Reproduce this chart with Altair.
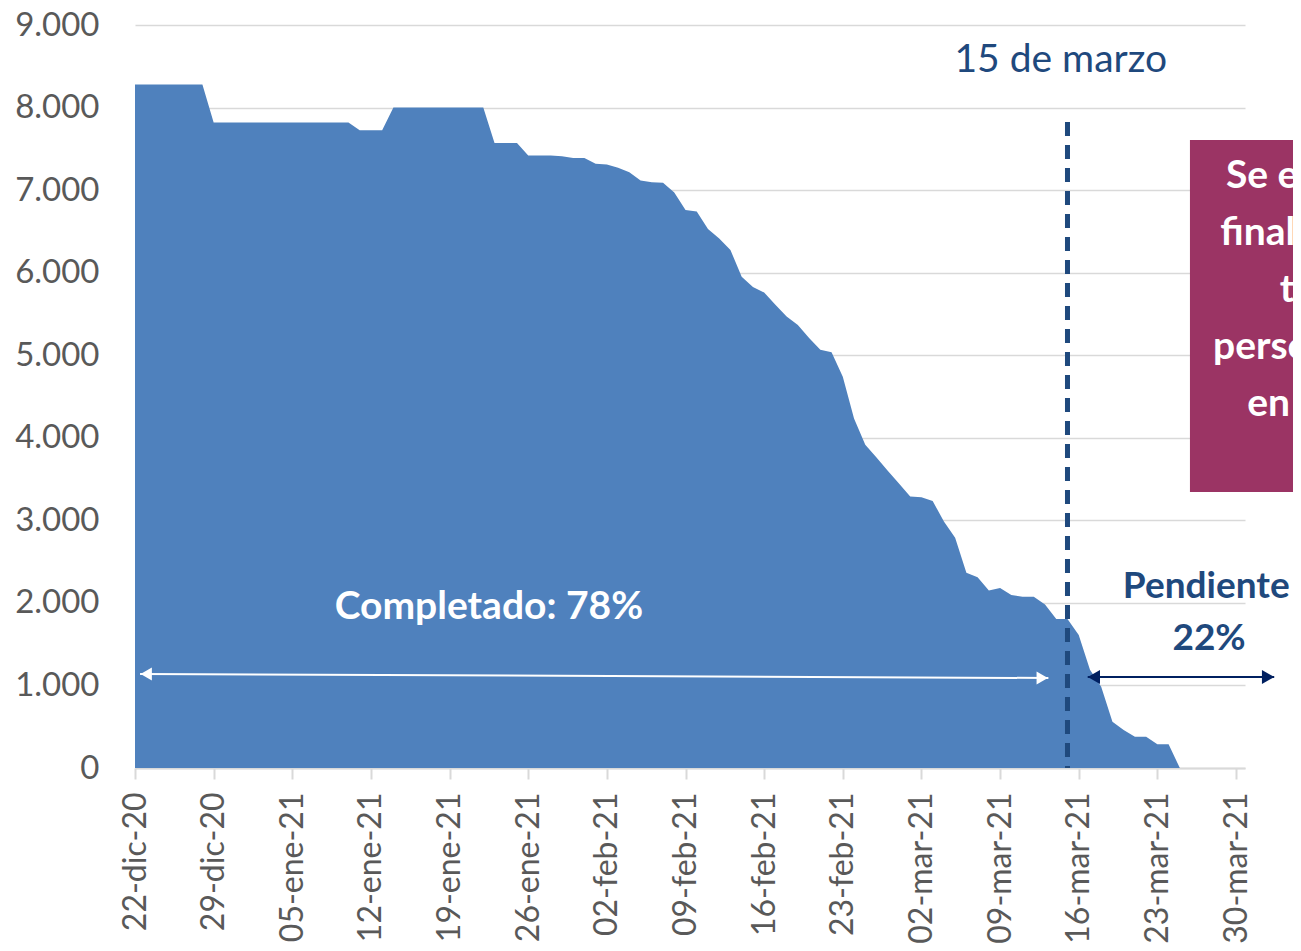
import altair as alt
import pandas as pd

# ---------------- data ----------------
# remaining persons, one value per day starting 22-dic-2020 (day 0)
values = [
    8280, 8280, 8280, 8280, 8280, 8280, 8280,                 # 22-28 dic
    7820, 7820, 7820, 7820, 7820, 7820, 7820, 7820, 7820, 7820, 7820, 7820, 7820,  # 29 dic - 10 ene
    7725, 7725, 7725,                                           # 11-13 ene
    8000, 8000, 8000, 8000, 8000, 8000, 8000, 8000, 8000,       # 14-22 ene
    7570, 7570, 7570,                                           # 23-25 ene
    7420, 7420, 7420, 7410, 7390, 7390, 7320, 7310, 7270, 7215,
    7115, 7095, 7090, 6970, 6760, 6740, 6530, 6415, 6275, 5950,
    5825, 5760, 5610, 5470, 5365, 5210, 5065, 5035, 4740, 4235,
    3915, 3760, 3600, 3445, 3290, 3280, 3235, 2985, 2790, 2365,
    2310, 2150, 2180, 2095, 2075, 2075, 1980, 1805, 1805, 1610,
    1190, 985, 560, 460, 380, 380, 287, 287, 0,
]
days = list(range(len(values)))

tick_days = [0, 7, 14, 21, 28, 35, 42, 49, 56, 63, 70, 77, 84, 91, 98]
tick_labels = ["22-dic-20", "29-dic-20", "05-ene-21", "12-ene-21", "19-ene-21",
               "26-ene-21", "02-feb-21", "09-feb-21", "16-feb-21", "23-feb-21",
               "02-mar-21", "09-mar-21", "16-mar-21", "23-mar-21", "30-mar-21"]
y_ticks = [0, 1000, 2000, 3000, 4000, 5000, 6000, 7000, 8000, 9000]

# annotations (day index / value units)
marker_day = [83.0]           # 15 de marzo
marker_top = [7826]
marker_label = ["15 de marzo"]
marker_label_pos = [(82.4, 8435)]

done_label = ["Completado: 78%"]
done_label_pos = [(31.5, 1801)]
done_arrow = [(0.45, 1139, 81.3, 1090)]

pend_labels = ["Pendiente", "22%"]
pend_label_pos = [(95.35, 2056), (95.6, 1429)]
pend_arrow = [(84.8, 1102, 101.4, 1102)]

box_extent = [(93.9, 120.0, 7608, 3343)]
box_lines = ["Se e", "final", "t", "perso", "en"]
box_line_pos = [(97.1, 7026), (96.6, 6335), (101.9, 5645), (95.95, 4955), (99.0, 4264)]

# ---------------- styling ----------------
FONT = "Lato"
AREA = "#4F81BD"
NAVY = "#1F497D"
DARK = "#002060"
GRID = "#D9D9D9"
LABEL = "#595959"
BOX = "#9B3464"

XDOM = [0, 98.8]
YDOM = [0, 9000]
xs = alt.Scale(domain=XDOM, nice=False, zero=False)
ys = alt.Scale(domain=YDOM, nice=False)

df = pd.DataFrame({"day": days, "value": values})

label_expr = "[" + ",".join(f"'{t}'" for t in tick_labels) + "][round(datum.value/7)]"

area = alt.Chart(df).mark_area(color=AREA, interpolate="linear").encode(
    x=alt.X("day:Q", scale=xs, title=None,
            axis=alt.Axis(values=tick_days, labelExpr=label_expr, grid=False,
                          domainColor=GRID, domainWidth=2, tickColor=GRID,
                          tickWidth=2, tickSize=11, labelAngle=270,
                          labelPadding=13, labelFontSize=32, labelFont=FONT,
                          labelColor=LABEL, labelOverlap=False)),
    y=alt.Y("value:Q", scale=ys, title=None,
            axis=alt.Axis(values=y_ticks,
                          labelExpr="replace(format(datum.value, ','), ',', '.')",
                          grid=True, gridColor=GRID, gridWidth=1.5, domain=False,
                          ticks=False, labelPadding=36, labelFontSize=33,
                          labelFont=FONT, labelColor=LABEL)),
)


def X(f):
    return alt.X(f, scale=xs, title=None)


def Y(f):
    return alt.Y(f, scale=ys, title=None)


# dashed 15-mar marker
mk = pd.DataFrame({"x": marker_day, "y": marker_top, "y0": [0]})
marker = alt.Chart(mk).mark_rule(color=NAVY, strokeWidth=5, strokeDash=[14, 9]).encode(
    x=X("x:Q"), y=Y("y:Q"), y2="y0:Q")

mkl = pd.DataFrame({"x": [p[0] for p in marker_label_pos], "y": [p[1] for p in marker_label_pos],
                    "t": marker_label})
marker_text = alt.Chart(mkl).mark_text(font=FONT, fontSize=39, color=NAVY,
                                       align="center", baseline="alphabetic").encode(
    x=X("x:Q"), y=Y("y:Q"), text="t:N")

# completed label + white double arrow
dl = pd.DataFrame({"x": [p[0] for p in done_label_pos], "y": [p[1] for p in done_label_pos],
                   "t": done_label})
done_text = alt.Chart(dl).mark_text(font=FONT, fontSize=39, fontWeight="bold", color="white",
                                    align="center", baseline="alphabetic").encode(
    x=X("x:Q"), y=Y("y:Q"), text="t:N")


def double_arrow(spec, color, size):
    x1, y1, x2, y2 = spec
    line = pd.DataFrame({"x": [x1], "y": [y1], "x2": [x2], "y2": [y2]})
    rule = alt.Chart(line).mark_rule(color=color, strokeWidth=2).encode(
        x=X("x:Q"), y=Y("y:Q"), x2="x2:Q", y2="y2:Q")
    off = 0.55
    heads = pd.DataFrame({"x": [x1 + off, x2 - off], "y": [y1, y2],
                          "s": ["triangle-left", "triangle-right"]})
    pts = alt.Chart(heads).mark_point(filled=True, opacity=1, color=color, size=size).encode(
        x=X("x:Q"), y=Y("y:Q"),
        shape=alt.Shape("s:N", scale=None, legend=None))
    return rule + pts


done_arrow_layer = double_arrow(done_arrow[0], "white", 170)
pend_arrow_layer = double_arrow(pend_arrow[0], DARK, 200)

pl = pd.DataFrame({"x": [p[0] for p in pend_label_pos], "y": [p[1] for p in pend_label_pos],
                   "t": pend_labels, "fs": [37, 37]})
pend_text = alt.Chart(pl).mark_text(font=FONT, fontWeight="bold", color=NAVY,
                                    align="center", baseline="alphabetic").encode(
    x=X("x:Q"), y=Y("y:Q"), text="t:N",
    size=alt.Size("fs:Q", scale=None, legend=None))

# magenta box (extends past the right edge)
bx = pd.DataFrame({"x": [b[0] for b in box_extent], "x2": [b[1] for b in box_extent],
                   "y": [b[2] for b in box_extent], "y2": [b[3] for b in box_extent]})
box = alt.Chart(bx).mark_rect(color=BOX).encode(
    x=X("x:Q"), x2="x2:Q", y=Y("y:Q"), y2="y2:Q")

bl = pd.DataFrame({"x": [p[0] for p in box_line_pos], "y": [p[1] for p in box_line_pos],
                   "t": box_lines})
box_text = alt.Chart(bl).mark_text(font=FONT, fontSize=39, fontWeight="bold", color="white",
                                   align="left", baseline="alphabetic").encode(
    x=X("x:Q"), y=Y("y:Q"), text="t:N")

chart = alt.layer(
    area, marker, marker_text, done_text, done_arrow_layer, pend_arrow_layer,
    pend_text, box, box_text
).properties(
    width=1110, height=743,
    autosize=alt.AutoSizeParams(type="none"),
    padding={"left": 127, "top": 17, "right": 48, "bottom": 175},
    background="white",
).configure_view(stroke=None)

chart.save("out.html", embed_options={"renderer": "svg", "actions": False})
